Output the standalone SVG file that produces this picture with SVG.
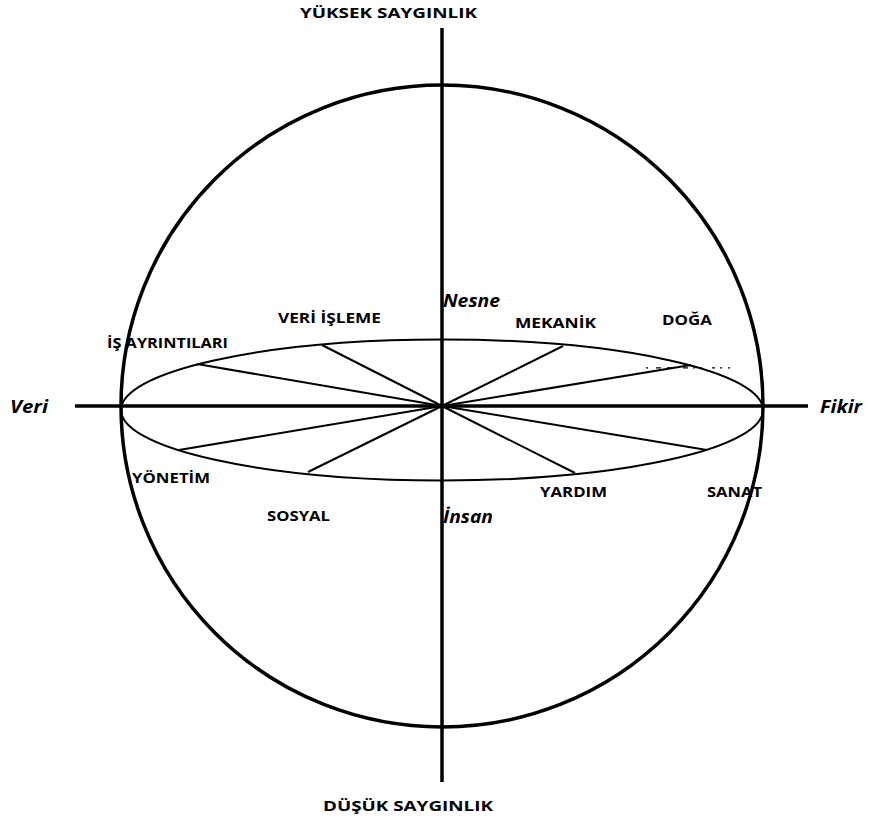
<svg xmlns="http://www.w3.org/2000/svg" width="871" height="821" viewBox="0 0 871 821">
<style>
.lbl{font-family:"Open Sans","Liberation Sans",sans-serif;font-weight:bold;font-size:15px;fill:#000}
.ax{font-family:"Open Sans","Liberation Sans",sans-serif;font-weight:bold;font-style:italic;font-size:17px;fill:#000}
.thick{stroke:#000;stroke-width:3.5;fill:none}
.thin{stroke:#000;stroke-width:2;fill:none}
</style>
<rect width="871" height="821" fill="#fff"/>
<g id="sphere">
<circle cx="442" cy="406" r="321" class="thick"/>
<ellipse cx="442" cy="410" rx="321" ry="70.5" class="thin"/>
</g>
<g id="connectors">
<line x1="442" y1="406" x2="322" y2="345" class="thin"/>
<line x1="442" y1="406" x2="197" y2="364" class="thin"/>
<line x1="442" y1="406" x2="563" y2="346" class="thin"/>
<line x1="442" y1="406" x2="691" y2="365" class="thin"/>
<line x1="442" y1="406" x2="707" y2="450" class="thin"/>
<line x1="442" y1="406" x2="575" y2="473" class="thin"/>
<line x1="442" y1="406" x2="308" y2="472" class="thin"/>
<line x1="442" y1="406" x2="179" y2="450" class="thin"/>
<line x1="75" y1="406" x2="808" y2="406" class="thick"/>
<line x1="442" y1="28" x2="442" y2="782" class="thick"/>
<path d="M646 367.8h2M656 367.8h5M667 367.8h5M683 367.8h5M693 367.8h2M700 367.8h2M712 367.8h3M720 367.8h2M728 367.8h2" stroke="#000" stroke-width="1.3"/>
</g>
<g id="axis-labels">
<text x="300" y="18" class="lbl" textLength="177" lengthAdjust="spacingAndGlyphs">YÜKSEK SAYGINLIK</text>
<text x="323" y="811" class="lbl" textLength="170" lengthAdjust="spacingAndGlyphs">DÜŞÜK SAYGINLIK</text>
<text x="10" y="413" class="ax" textLength="38" lengthAdjust="spacingAndGlyphs">Veri</text>
<text x="820" y="413" class="ax" textLength="42" lengthAdjust="spacingAndGlyphs">Fikir</text>
<text x="443" y="307" class="ax" textLength="57" lengthAdjust="spacingAndGlyphs">Nesne</text>
<text x="443" y="523" class="ax" textLength="50" lengthAdjust="spacingAndGlyphs">İnsan</text>
</g>
<g id="n-veri-isleme"><text x="278" y="323" class="lbl" textLength="103" lengthAdjust="spacingAndGlyphs">VERİ İŞLEME</text></g>
<g id="n-is-ayrintilari"><text x="107" y="348" class="lbl" textLength="121" lengthAdjust="spacingAndGlyphs">İŞ AYRINTILARI</text></g>
<g id="n-mekanik"><text x="515" y="328" class="lbl" textLength="81" lengthAdjust="spacingAndGlyphs">MEKANİK</text></g>
<g id="n-doga"><text x="662" y="325" class="lbl" textLength="50" lengthAdjust="spacingAndGlyphs">DOĞA</text></g>
<g id="n-yonetim"><text x="132" y="483" class="lbl" textLength="78" lengthAdjust="spacingAndGlyphs">YÖNETİM</text></g>
<g id="n-sosyal"><text x="267" y="521" class="lbl" textLength="63" lengthAdjust="spacingAndGlyphs">SOSYAL</text></g>
<g id="n-yardim"><text x="540" y="497" class="lbl" textLength="67" lengthAdjust="spacingAndGlyphs">YARDIM</text></g>
<g id="n-sanat"><text x="707" y="497" class="lbl" textLength="55" lengthAdjust="spacingAndGlyphs">SANAT</text></g>
</svg>
